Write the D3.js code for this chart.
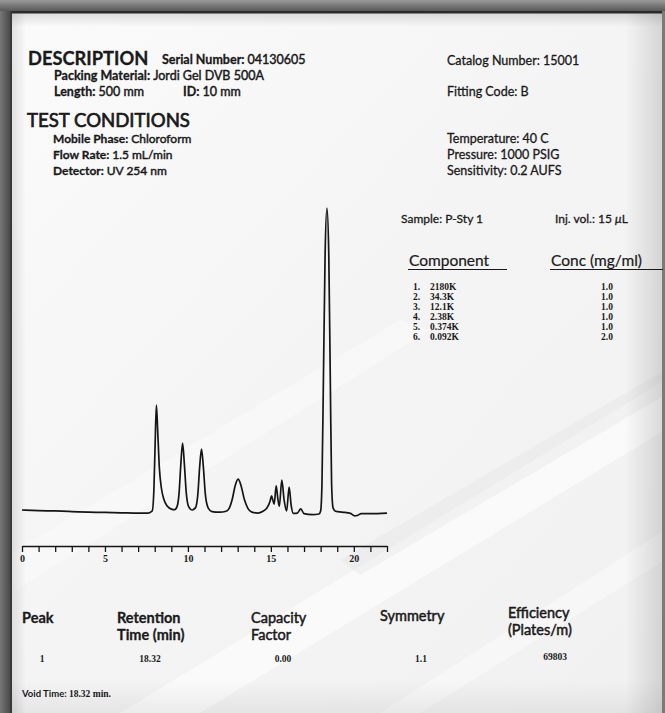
<!DOCTYPE html>
<html><head><meta charset="utf-8">
<script src="https://cdn.jsdelivr.net/npm/d3@7"></script>
<style>html,body{margin:0;padding:0;background:#f6f6f6;}svg{display:block;}</style>
</head><body>
<script>
// ---- data ----
const traceTimes   = [0,1,2,3,4,5,6,7,7.6,7.85,7.95,8.02,8.1,8.18,8.28,8.4,8.55,8.75,9.0,9.2,9.35,9.47,9.57,9.68,9.79,9.9,10.05,10.25,10.45,10.6,10.71,10.82,10.93,11.05,11.22,11.45,11.9,12.3,12.5,12.68,12.86,13.03,13.2,13.4,13.6,13.85,14.2,14.5,14.8,14.95,15.04,15.12,15.2,15.32,15.42,15.51,15.66,15.8,15.95,16.1,16.22,16.35,16.6,16.8,17.0,17.5,17.9,18.0,18.08,18.17,18.27,18.38,18.49,18.58,18.66,18.75,18.9,19.3,19.8,20.05,20.2,20.45,21,22];
const traceSignals = [1.3,1.1,1.0,0.8,0.6,0.5,0.4,0.3,0.3,1.0,8,22,35.6,27,15,8.5,4.8,2.6,1.6,1.4,2.5,7,16,23.2,16,7,2.3,1.3,2,6.5,15.5,21.2,15.5,6.5,2,0.8,0.6,0.9,2,5,9.5,11.4,9.3,4.8,2,0.6,0.3,0.8,2.3,4.2,5.9,4.5,3.2,9.2,5,2.5,11.1,4.5,1.0,8.8,3,0.2,0.3,1.7,0.1,-0.2,0,1,10,45,85,100,85,45,10,2,0.9,0.6,0.2,-0.6,-0.5,0.1,0.1,0.3];
const axisTicks = d3.range(0, 23);
const axisLabelTicks = [0, 5, 10, 15, 20];

const descLines = [["Packing Material: ", "Jordi Gel DVB 500A"]];
const condLines = [["Mobile Phase: ", "Chloroform"], ["Flow Rate: ", "1.5 mL/min"], ["Detector: ", "UV 254 nm"]];
const rightCond = ["Temperature: 40 C", "Pressure: 1000 PSIG", "Sensitivity: 0.2 AUFS"];
const componentNums = ["1.", "2.", "3.", "4.", "5.", "6."];
const componentNames = ["2180K", "34.3K", "12.1K", "2.38K", "0.374K", "0.092K"];
const concentrations = ["1.0", "1.0", "1.0", "1.0", "1.0", "2.0"];
const tableHeaders = [["Peak"], ["Retention", "Time (min)"], ["Capacity", "Factor"], ["Symmetry"], ["Efficiency", "(Plates/m)"]];
const tableValues = ["1", "18.32", "0.00", "1.1", "69803"];

// ---- drawing ----
const W = 665, H = 713;
const svg = d3.select("body").append("svg").attr("width", W).attr("height", H);
const defs = svg.append("defs");

function lg(id, x2, y2, stops) {
  const g = defs.append("linearGradient").attr("id", id).attr("x1", 0).attr("y1", 0).attr("x2", x2).attr("y2", y2);
  stops.forEach(s => g.append("stop").attr("offset", s[0]).attr("stop-color", s[1]).attr("stop-opacity", s[2] === undefined ? 1 : s[2]));
}
lg("bg", 1, 1, [[0, "#fbfbfb"], [0.5, "#f4f4f4"], [1, "#f1f1f1"]]);
lg("rshade", 1, 0, [[0, "#000", 0], [1, "#000", 0.13]]);
lg("tshade", 0, 1, [[0, "#000", 0.12], [1, "#000", 0]]);
lg("lshade", 1, 0, [[0, "#000", 0.10], [1, "#000", 0]]);
lg("bshade", 0, 1, [[0, "#000", 0], [1, "#000", 0.06]]);
lg("topbar", 0, 1, [[0, "#9a9a9a"], [1, "#585858"]]);
lg("leftbar", 1, 0, [[0, "#777"], [1, "#4a4a4a"]]);

svg.append("rect").attr("width", W).attr("height", H).attr("fill", "url(#bg)");
// glare streaks
const glare = svg.append("g").attr("fill", "#fff");
glare.append("polygon").attr("points", "120,713 200,713 665,430 665,380").attr("opacity", 0.55);
glare.append("polygon").attr("points", "0,560 0,600 430,330 400,320").attr("opacity", 0.35);
glare.append("polygon").attr("points", "380,713 420,713 665,560 665,530").attr("opacity", 0.4);
svg.append("polygon").attr("points", "340,560 665,370 665,395 360,575").attr("fill", "#ddd").attr("opacity", 0.25);

svg.append("rect").attr("x", 625).attr("y", 0).attr("width", 38).attr("height", H).attr("fill", "url(#rshade)");
svg.append("rect").attr("x", 0).attr("y", 13).attr("width", W).attr("height", 14).attr("fill", "url(#tshade)");
svg.append("rect").attr("x", 12).attr("y", 0).attr("width", 14).attr("height", H).attr("fill", "url(#lshade)");
svg.append("rect").attr("x", 0).attr("y", 680).attr("width", W).attr("height", 33).attr("fill", "url(#bshade)");
// frame
svg.append("rect").attr("x", 0).attr("y", 0).attr("width", 10).attr("height", H).attr("fill", "url(#leftbar)");
svg.append("rect").attr("x", 0).attr("y", 0).attr("width", W).attr("height", 11).attr("fill", "url(#topbar)");
svg.append("rect").attr("x", 10).attr("y", 11).attr("width", W - 10).attr("height", 2.5).attr("fill", "#2a2a2a");
svg.append("rect").attr("x", 10).attr("y", 11).attr("width", 2).attr("height", H).attr("fill", "#3a3a3a");
svg.append("rect").attr("x", 662).attr("y", 11).attr("width", 3).attr("height", H).attr("fill", "#7a7a7a");

const sans = "Lato, 'Open Sans', sans-serif";
const serif = "'Liberation Serif', 'DejaVu Serif', serif";
const ink = "#1a1a1a";

function txt(x, y, size, weight, str, anchor) {
  return svg.append("text").attr("x", x).attr("y", y).attr("font-family", sans).attr("font-size", size)
    .attr("font-weight", weight).attr("fill", ink).attr("stroke", ink).attr("stroke-width", 0.3)
    .attr("text-anchor", anchor || "start").text(str);
}
function pair(x, y, size, label, value) {
  const t = svg.append("text").attr("x", x).attr("y", y).attr("font-family", sans).attr("font-size", size)
    .attr("fill", ink).attr("stroke", ink).attr("stroke-width", 0.3);
  t.append("tspan").attr("font-weight", 700).text(label);
  t.append("tspan").attr("font-weight", 400).attr("stroke-width", 0.45).text(value);
}

// header
txt(28, 65, 18.3, 700, "DESCRIPTION");
pair(162, 64, 12.5, "Serial Number: ", "04130605");
descLines.forEach((d, i) => pair(54, 80, 12.5, d[0], d[1]));
pair(54, 96, 12.5, "Length: ", "500 mm");
pair(183, 96, 12.5, "ID: ", "10 mm");
txt(27, 127, 18.6, 400, "TEST CONDITIONS").attr("stroke-width", 0.7);
condLines.forEach((d, i) => pair(53, 143 + i * 16, 12, d[0], d[1]));
txt(447, 65, 12.5, 400, "Catalog Number: 15001");
txt(447, 96, 12.5, 400, "Fitting Code: B");
rightCond.forEach((s, i) => txt(447, 143 + i * 16, 12.5, 400, s));

// sample block
txt(401, 223, 12, 400, "Sample: P-Sty 1");
const inj = txt(555, 223, 12, 400, "Inj. vol.: 15 ");
inj.append("tspan").attr("font-style", "italic").text("\u03bc");
inj.append("tspan").text("L");
txt(409, 266, 15.5, 400, "Component").attr("stroke-width", 0.2);
txt(551, 266, 15.5, 400, "Conc (mg/ml)").attr("stroke-width", 0.2);
svg.append("line").attr("x1", 408).attr("x2", 507).attr("y1", 269.5).attr("y2", 269.5).attr("stroke", ink).attr("stroke-width", 1.2);
svg.append("line").attr("x1", 550).attr("x2", 663).attr("y1", 269.5).attr("y2", 269.5).attr("stroke", ink).attr("stroke-width", 1.2);
const rowY = d3.scaleLinear().domain([0, 5]).range([290, 339.5]);
componentNums.forEach((n, i) => {
  svg.append("text").attr("x", 413).attr("y", rowY(i)).attr("font-family", serif).attr("font-weight", 700).attr("font-size", 9.5).attr("fill", ink).text(n);
  svg.append("text").attr("x", 430).attr("y", rowY(i)).attr("font-family", serif).attr("font-weight", 700).attr("font-size", 9.5).attr("fill", ink).text(componentNames[i]);
  svg.append("text").attr("x", 607).attr("y", rowY(i)).attr("text-anchor", "middle").attr("font-family", serif).attr("font-weight", 700).attr("font-size", 9.5).attr("fill", ink).text(concentrations[i]);
});

// chromatogram
const x = d3.scaleLinear().domain([0, 22]).range([22, 387]);
const y = d3.scaleLinear().domain([0, 100]).range([514, 208]);
const pts = traceTimes.map((t, i) => [t, traceSignals[i]]);
svg.append("path").datum(pts)
  .attr("d", d3.line().x(d => x(d[0])).y(d => y(d[1])).curve(d3.curveMonotoneX))
  .attr("fill", "none").attr("stroke", "#151515").attr("stroke-width", 1.7).attr("stroke-linejoin", "round");

const axis = d3.axisBottom(x).tickValues(axisTicks).tickSize(6).tickSizeOuter(0)
  .tickFormat(d => axisLabelTicks.includes(d) ? d3.format("d")(d) : "");
const ag = svg.append("g").attr("transform", "translate(0,546)").call(axis);
ag.select(".domain").attr("stroke", "#151515").attr("stroke-width", 1.6);
ag.selectAll(".tick line").attr("stroke", "#151515").attr("stroke-width", 1.3);
ag.selectAll(".tick text").attr("font-family", serif).attr("font-weight", 700).attr("font-size", 10).attr("fill", ink).attr("dy", 0).attr("y", 16);

// bottom table
const colX = [22, 117, 251, 380, 508];
const headBase = [623, 623, 623, 621, 618];
const headW = [700, 700, 400, 400, 400];
tableHeaders.forEach((lines, i) => {
  lines.forEach((s, j) => txt(colX[i], headBase[i] + j * 17, 14.5, headW[i], s).attr("stroke-width", headW[i] === 700 ? 0.3 : 0.5));
});
const valX = [42, 150, 283, 421, 555];
tableValues.forEach((v, i) => {
  svg.append("text").attr("x", valX[i]).attr("y", i === 4 ? 660 : 662).attr("text-anchor", "middle")
    .attr("font-family", serif).attr("font-weight", 700).attr("font-size", 9.5).attr("fill", ink).text(v);
});
const vt = svg.append("text").attr("x", 22).attr("y", 697).attr("font-size", 9.5).attr("fill", ink).attr("font-weight", 700);
vt.append("tspan").attr("font-family", sans).text("Void Time: ");
vt.append("tspan").attr("font-family", serif).text("18.32 min.");
</script>
</body></html>
